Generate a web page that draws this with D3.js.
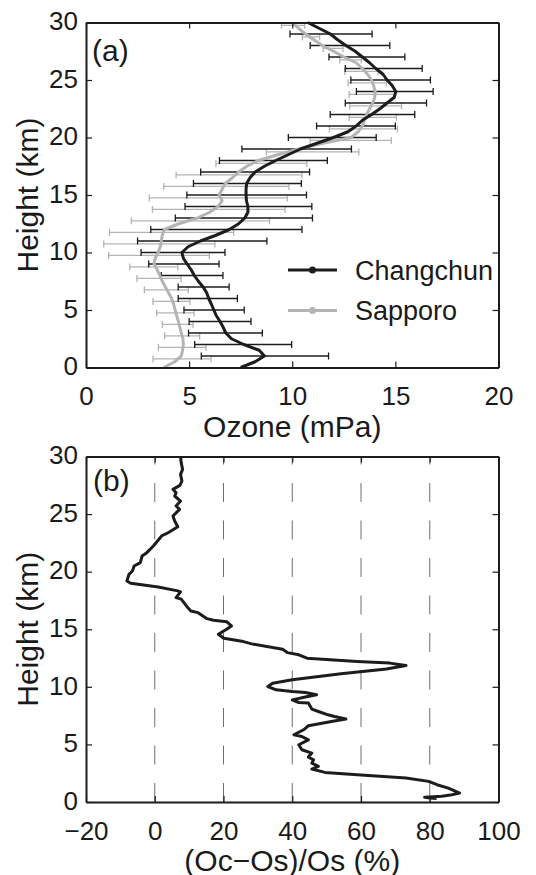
<!DOCTYPE html>
<html><head><meta charset="utf-8">
<script src="https://cdn.jsdelivr.net/npm/d3@7/dist/d3.min.js"></script>
<style>
html,body{margin:0;padding:0;background:#fff;}
svg text{font-family:"Liberation Sans",Arial,Helvetica,sans-serif;fill:#1a1a1a;}
</style></head>
<body>
<svg id="chart" width="536" height="875"></svg>
<script>
// ---------- Panel (a) data ----------
const profileHeights = [0,0.5,1,1.5,2,2.5,3,3.5,4,4.5,5,5.5,6,6.5,7,7.5,8,8.5,9,9.5,10,10.5,11,11.5,12,12.5,13,13.5,14,14.5,15,15.5,16,16.5,17,17.5,18,18.5,19,19.5,20,20.5,21,21.5,22,22.5,23,23.5,24,24.5,25,25.5,26,26.5,27,27.5,28,28.5,29,29.5,30];
const changchun = [7.5,8.2,8.65,8.4,7.65,7.05,6.78,6.65,6.5,6.32,6.2,6.08,5.95,5.85,5.68,5.45,5.25,5.1,4.9,4.72,4.65,4.95,5.55,6.3,6.95,7.4,7.7,7.85,7.85,7.78,7.76,7.76,7.79,7.95,8.2,8.65,9.2,9.8,10.4,11.2,12.0,12.7,13.1,13.4,13.85,14.25,14.6,14.95,15.02,14.85,14.6,14.4,14.05,13.75,13.4,13.05,12.6,12.2,11.85,11.3,10.75];
const sapporo = [3.77,4.3,4.62,4.68,4.72,4.7,4.62,4.55,4.48,4.4,4.32,4.25,4.15,4.0,3.85,3.7,3.58,3.45,3.3,3.35,3.5,3.6,3.65,3.7,3.8,4.5,5.4,6.0,6.4,6.6,6.45,6.6,6.75,7.1,7.4,7.8,8.35,9.3,10.3,11.5,12.85,13.2,13.4,13.5,13.6,13.75,13.9,14.0,14.02,13.95,13.85,13.65,13.4,13.1,12.5,12.0,11.45,11.05,10.65,10.3,10.0];

const ccBarHeights = [1,2,3,4,5,6,7,8,9,10,11,12,13,14,15,16,17,18,19,20,21,22,23,24,25,26,27,28,29];
const ccBarLow  = [5.59,5.27,4.97,5.0,4.75,4.47,4.47,3.65,3.04,2.67,2.5,3.14,4.33,4.8,4.89,5.21,5.56,6.47,7.56,9.81,11.18,11.84,12.57,13.11,12.84,12.57,11.78,10.87,9.89];
const ccBarHigh = [11.76,9.97,8.55,8.0,7.67,7.34,6.94,6.64,6.45,6.74,8.77,10.47,10.98,10.95,10.69,10.44,10.84,11.7,12.87,14.07,15.0,15.94,16.51,16.83,16.7,16.3,15.46,14.73,13.87];

const spBarHeights = [0.75,1.75,2.75,3.75,4.75,5.75,6.75,7.75,8.75,9.75,10.75,11.75,12.75,13.75,14.75,15.75,16.75,17.75,18.75,19.75,20.75,21.75,22.75,23.75,24.75,25.75,26.75,27.75,28.75,29.75];
const spBarLow  = [3.25,3.51,3.81,3.7,3.43,3.25,2.83,2.47,2.12,1.1,0.86,1.14,2.2,3.22,3.07,3.77,4.37,6.3,8.74,10.87,11.8,12.76,12.79,12.76,12.71,12.55,12.3,11.5,10.49,9.48];
const spBarHigh = [6.06,5.82,5.51,5.19,5.24,5.04,4.96,4.61,4.45,5.98,6.25,7.16,8.9,9.65,9.76,9.84,10.47,10.71,13.23,14.8,15.1,15.05,15.3,14.97,14.57,14.16,13.35,12.46,11.33,10.6];

const ozoneTicks = [0,5,10,15,20];
const heightTicks = [0,5,10,15,20,25,30];
const legendNames = ["Changchun","Sapporo"];

// ---------- Panel (b) data ----------
const diffHeights = [30.0,29.45,28.88,28.45,27.87,27.49,27.15,26.85,26.57,26.13,25.7,25.41,24.83,24.4,23.9,23.38,23.1,22.23,21.65,21.36,20.78,20.49,20.06,19.77,19.19,18.99,18.67,18.33,18.24,17.75,17.61,16.88,16.59,16.44,15.92,15.78,15.66,15.29,15.0,14.57,14.22,13.93,13.73,13.27,12.97,12.78,12.49,12.2,12.06,11.85,11.54,11.13,10.61,10.32,10.03,9.74,9.59,9.5,9.31,9.11,8.87,8.64,8.59,8.07,7.86,7.57,7.42,7.2,6.99,6.62,6.27,5.84,5.69,5.4,4.97,4.54,4.25,3.9,3.67,3.38,3.09,2.86,2.57,2.37,2.08,1.79,1.5,1.21,0.78,0.6,0.5,0.42,0.35,0.3];
const diffPct = [7.5,7.7,8.1,7.5,7.9,7.3,5.3,6.2,5.8,7.5,6.2,7.2,5.3,5.8,6.7,3.9,2.0,-0.4,-2.3,-3.7,-4.2,-6.0,-6.5,-7.5,-8.1,-7.0,1.0,6.7,7.5,6.2,7.7,9.6,10.5,12.6,15.2,17.1,20.9,22.3,20.9,18.5,20.1,25.8,28.2,37.2,38.6,41.9,44.3,58.9,68.4,73.1,67.4,54.2,40.0,34.3,32.9,35.3,40.0,43.8,47.1,43.8,40.0,41.9,44.7,45.7,47.6,50.4,52.3,55.6,51.4,44.7,43.3,40.5,42.8,44.7,41.9,42.8,45.7,44.7,46.2,45.7,47.6,45.7,49.5,58.9,73.1,79.7,82.1,85.4,88.7,86.0,83.5,78.5,80.0,82.0];
const pctTicks = [-20,0,20,40,60,80,100];
const pctGrid = [0,20,40,60,80];

// ---------- drawing ----------
const svg = d3.select("#chart");
svg.append("rect").attr("width",536).attr("height",875).attr("fill","#fff");

const L = 86, R = 498.5;
const BLACK = "#1c1c1c", GREY = "#b4b4b4";
const tickFont = 26, titleFont = 30;

function frame(g, x, y, xTicks, yTicks, top, bottom){
  const bx = g.append("g").attr("transform",`translate(0,${bottom})`)
    .call(d3.axisBottom(x).tickValues(xTicks).tickSizeInner(-6).tickSizeOuter(0).tickPadding(19.5).tickFormat(d=>d<0?"\u2212"+Math.abs(d):d));
  const tx = g.append("g").attr("transform",`translate(0,${top})`)
    .call(d3.axisTop(x).tickValues(xTicks).tickSizeInner(-6).tickSizeOuter(0).tickFormat(""));
  const ly = g.append("g").attr("transform",`translate(${L},0)`)
    .call(d3.axisLeft(y).tickValues(yTicks).tickSizeInner(-6).tickSizeOuter(0).tickPadding(8));
  const ry = g.append("g").attr("transform",`translate(${R},0)`)
    .call(d3.axisRight(y).tickValues(yTicks).tickSizeInner(-6).tickSizeOuter(0).tickFormat(""));
  [bx,tx,ly,ry].forEach(a=>{
    a.select(".domain").attr("stroke",BLACK).attr("stroke-width",2);
    a.selectAll(".tick line").attr("stroke",BLACK).attr("stroke-width",1.2);
    a.selectAll("text").attr("font-size",tickFont).attr("fill",BLACK)
      .attr("font-family","Liberation Sans, Arial, sans-serif");
  });
  ly.selectAll("text").attr("dy","0.28em");
}

// ----- Panel (a)
const topA = 22.5, botA = 367.5;
const xA = d3.scaleLinear().domain([0,20]).range([L,R]);
const yA = d3.scaleLinear().domain([0,30]).range([botA,topA]);
const gA = svg.append("g");

function errorBars(g, hs, lo, hi, color){
  const cap = 3.5;
  hs.forEach((h,i)=>{
    const y = yA(h), x1 = xA(lo[i]), x2 = xA(hi[i]);
    g.append("line").attr("x1",x1).attr("x2",x2).attr("y1",y).attr("y2",y).attr("stroke",color).attr("stroke-width",1.3);
    g.append("line").attr("x1",x1).attr("x2",x1).attr("y1",y-cap).attr("y2",y+cap).attr("stroke",color).attr("stroke-width",1.3);
    g.append("line").attr("x1",x2).attr("x2",x2).attr("y1",y-cap).attr("y2",y+cap).attr("stroke",color).attr("stroke-width",1.3);
  });
}
const plotA = gA.append("g");
errorBars(plotA, spBarHeights, spBarLow, spBarHigh, GREY);
errorBars(plotA, ccBarHeights, ccBarLow, ccBarHigh, BLACK);
const lineA = d3.line().x(d=>xA(d[0])).y(d=>yA(d[1])).curve(d3.curveLinear);
plotA.append("path").datum(sapporo.map((v,i)=>[v,profileHeights[i]]))
  .attr("d",lineA).attr("fill","none").attr("stroke",GREY).attr("stroke-width",3).attr("stroke-linejoin","round");
plotA.append("path").datum(changchun.map((v,i)=>[v,profileHeights[i]]))
  .attr("d",lineA).attr("fill","none").attr("stroke",BLACK).attr("stroke-width",3).attr("stroke-linejoin","round");

frame(gA, xA, yA, ozoneTicks, heightTicks, topA, botA);

gA.append("text").attr("x",92).attr("y",61).attr("font-size",titleFont).text("(a)");
gA.append("text").attr("x",(L+R)/2).attr("y",437).attr("text-anchor","middle").attr("font-size",titleFont).text("Ozone (mPa)");
gA.append("text").attr("transform",`translate(38,${(topA+botA)/2}) rotate(-90)`).attr("text-anchor","middle").attr("font-size",titleFont).text("Height (km)");

// legend
const legColors = [BLACK, GREY];
const legY = [270, 310.5];
legendNames.forEach((n,i)=>{
  const lg = gA.append("g");
  lg.append("line").attr("x1",288).attr("x2",337).attr("y1",legY[i]).attr("y2",legY[i]).attr("stroke",legColors[i]).attr("stroke-width",3);
  lg.append("circle").attr("cx",312.5).attr("cy",legY[i]).attr("r",3.5).attr("fill",legColors[i]);
  lg.append("text").attr("x",355).attr("y",legY[i]).attr("dy","0.36em").attr("font-size",27).text(n);
});

// ----- Panel (b)
const topB = 456.5, botB = 802;
const xB = d3.scaleLinear().domain([-20,100]).range([L,R]);
const yB = d3.scaleLinear().domain([0,30]).range([botB,topB]);
const gB = svg.append("g");
gB.selectAll("line.grid").data(pctGrid).enter().append("line").attr("class","grid")
  .attr("x1",d=>xB(d)).attr("x2",d=>xB(d)).attr("y1",botB).attr("y2",topB)
  .attr("stroke","#6e6e6e").attr("stroke-width",1).attr("stroke-dasharray","19,18.5");
const lineB = d3.line().x(d=>xB(d[0])).y(d=>yB(d[1]));
gB.append("path").datum(diffPct.map((v,i)=>[v,diffHeights[i]]))
  .attr("d",lineB).attr("fill","none").attr("stroke",BLACK).attr("stroke-width",3).attr("stroke-linejoin","round");
frame(gB, xB, yB, pctTicks, heightTicks, topB, botB);
gB.append("text").attr("x",93).attr("y",491).attr("font-size",titleFont).text("(b)");
gB.append("text").attr("x",(L+R)/2).attr("y",870.5).attr("text-anchor","middle").attr("font-size",titleFont).text("(Oc\u2212Os)/Os (%)");
gB.append("text").attr("transform",`translate(38,${(topB+botB)/2}) rotate(-90)`).attr("text-anchor","middle").attr("font-size",titleFont).text("Height (km)");
</script>
</body></html>
